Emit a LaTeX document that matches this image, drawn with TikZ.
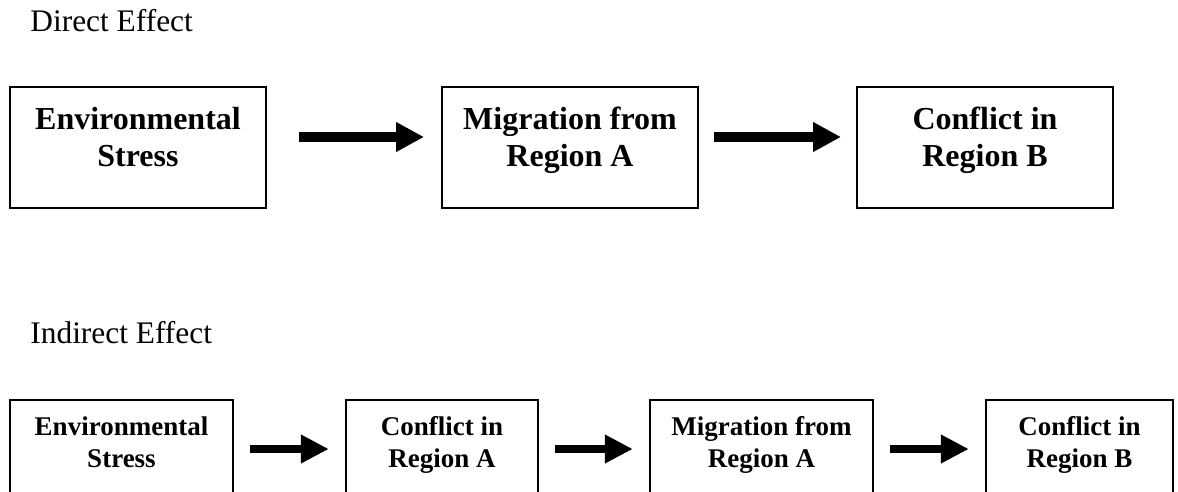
\documentclass[tikz,border=0pt]{standalone}
\usepackage{fontspec}
\setmainfont{Liberation Serif}
\usetikzlibrary{arrows.meta}

\begin{document}
\begin{tikzpicture}[x=0.5pt, y=-0.5pt,
        heading/.style={anchor=base west, inner sep=0pt, font=\fontsize{15.7pt}{18pt}\selectfont},
        bigbox/.style={draw, line width=1pt, minimum width=128pt, minimum height=60.25pt, align=center,
            text depth=11pt, font=\bfseries\fontsize{16pt}{18.5pt}\selectfont},
        smallbox/.style={draw, line width=0.7pt, minimum height=50pt, align=center,
            text depth=8.2pt, font=\bfseries\fontsize{13.5pt}{16pt}\selectfont},
        bigarrow/.style={line width=5pt, -{Triangle[length=14pt, width=14pt]}},
        smallarrow/.style={line width=4pt, -{Triangle[length=14pt, width=13.5pt]}, shorten <=8.25pt, shorten >=8.25pt}]
        \clip (0, 0) rectangle (1178, 492);
        \node[heading] at (30, 32) (direct) {Direct Effect};
        \node[bigbox] at (138, 147.5) (stressD) {Environmental\\Stress};
        \node[bigbox] at (570, 147.5) (migD) {Migration from\\Region A};
        \node[bigbox] at (985, 147.5) (conflictBD) {Conflict in\\Region B};
        \draw[bigarrow, shorten <=16pt, shorten >=8.5pt] ([yshift=5.25pt]stressD.east) -- ([yshift=5.25pt]migD.west);
        \draw[bigarrow, shorten <=7.5pt, shorten >=7.5pt] ([yshift=5.25pt]migD.east) -- ([yshift=5.25pt]conflictBD.west);
        \node[heading] at (30, 343) (indirect) {Indirect Effect};
        \node[smallbox, minimum width=111.5pt] at (121.5, 450) (stressI) {Environmental\\Stress};
        \node[smallbox, minimum width=96pt] at (442, 450) (conflictAI) {Conflict in\\Region A};
        \node[smallbox, minimum width=111.5pt] at (761.5, 450) (migI) {Migration from\\Region A};
        \node[smallbox, minimum width=93.5pt] at (1079.5, 450) (conflictBI) {Conflict in\\Region B};
        \draw[smallarrow] ([yshift=0.5pt]stressI.east) -- ([yshift=0.5pt]conflictAI.west);
        \draw[smallarrow] ([yshift=0.5pt]conflictAI.east) -- ([yshift=0.5pt]migI.west);
        \draw[smallarrow] ([yshift=0.5pt]migI.east) -- ([yshift=0.5pt]conflictBI.west);
\end{tikzpicture}
\end{document}
